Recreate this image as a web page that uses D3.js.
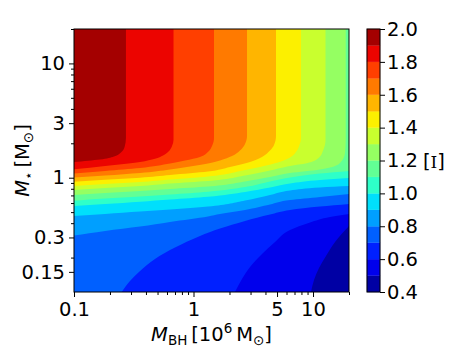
<!DOCTYPE html>
<html>
<head>
<meta charset="utf-8">
<script src="https://cdn.jsdelivr.net/npm/d3@7"></script>
<style>
  body { margin: 0; background: #fff; }
  text { font-family: "DejaVu Sans", sans-serif; }
</style>
</head>
<body>
<svg id="svg" width="463" height="348"></svg>
<script>
// contour levels and axis ticks
const levels = [0.4, 0.5, 0.6, 0.7, 0.8, 0.9, 1.0, 1.1, 1.2, 1.3, 1.4, 1.5, 1.6, 1.7, 1.8, 1.9, 2.0];
const cbarTicks = [0.4, 0.6, 0.8, 1.0, 1.2, 1.4, 1.6, 1.8, 2.0];
const xMajorTicks = [0.1, 1, 5, 10];
const xMinorTicks = [0.2, 0.3, 0.4, 0.5, 0.6, 0.7, 0.8, 0.9, 2, 3, 4, 6, 7, 8, 9, 20];
const yMajorTicks = [0.15, 0.3, 1, 3, 10];
const yMinorTicks = [0.2, 0.4, 0.5, 0.6, 0.7, 0.8, 0.9, 2, 4, 5, 6, 7, 8, 9, 20];

// contour boundaries: [M_BH (1e6 Msun), M_star (Msun)], top to bottom
const line05 = [[20, 0.378], [15.28, 0.274], [12.84, 0.2065], [11.22, 0.1622], [10.19, 0.1273], [9.618, 0.1]];
const line06 = [[20, 0.4815], [13.87, 0.453], [9.435, 0.406], [6.418, 0.349], [4.808, 0.274], [3.742, 0.215],
                [2.97, 0.1655], [2.545, 0.13], [2.224, 0.1]];
const line07 = [[20, 0.589], [11.44, 0.56], [6.418, 0.522], [4.365, 0.4765], [2.697, 0.418], [1.666, 0.359],
                [1.133, 0.309], [0.70, 0.245], [0.476, 0.1944], [0.357, 0.1527], [0.294, 0.1248], [0.2507, 0.1]];
const line08 = [[20, 0.72], [11.44, 0.678], [6.418, 0.638], [4.365, 0.583], [2.697, 0.522], [1.666, 0.4815],
                [1.322, 0.458], [0.636, 0.41], [0.357, 0.374], [0.182, 0.342], [0.1, 0.312]];
const line09 = [[20, 0.846], [11.44, 0.821], [6.418, 0.773], [4.365, 0.706], [2.697, 0.632], [1.322, 0.56],
                [0.636, 0.527], [0.357, 0.506], [0.182, 0.4815], [0.1, 0.462]];
const line10 = [[20, 0.994], [11.44, 0.955], [6.418, 0.89], [4.365, 0.821], [2.697, 0.75], [1.322, 0.682],
                [0.636, 0.645], [0.357, 0.617], [0.182, 0.589], [0.1, 0.566]];
const line11 = [[20, 1.145], [11.44, 1.088], [6.418, 1.004], [4.365, 0.927], [2.697, 0.829], [1.322, 0.754],
                [0.636, 0.713], [0.357, 0.685], [0.182, 0.658], [0.1, 0.629]];
const line12 = [[18.77, 20], [18.77, 2.14], [18.52, 1.645], [16.82, 1.345], [13.87, 1.228], [11.44, 1.18],
                [6.418, 1.099], [4.365, 1.014], [2.697, 0.927], [1.322, 0.838], [0.636, 0.797], [0.357, 0.765],
                [0.182, 0.735], [0.1, 0.706]];
const line13 = [[12.72, 20], [12.72, 2.14], [12.19, 1.747], [11.07, 1.478], [8.853, 1.337], [6.418, 1.266],
                [4.365, 1.156], [2.697, 1.045], [1.322, 0.936], [0.636, 0.89], [0.357, 0.846], [0.182, 0.813],
                [0.1, 0.781]];
const line14 = [[7.935, 20], [7.935, 2.225], [7.706, 1.933], [7.343, 1.73], [6.418, 1.502], [5.093, 1.358],
                [3.6, 1.241], [2.697, 1.168], [1.322, 1.025], [0.636, 0.9645], [0.357, 0.917], [0.182, 0.881],
                [0.1, 0.846]];
const line15 = [[4.9, 20], [4.9, 2.317], [4.716, 1.933], [4.365, 1.73], [3.742, 1.518], [2.97, 1.372],
                [2.02, 1.241], [1.322, 1.133], [0.636, 1.056], [0.357, 1.0], [0.182, 0.961], [0.1, 0.923]];
const line16 = [[2.803, 20], [2.803, 2.317], [2.697, 1.972], [2.449, 1.73], [2.1, 1.548], [1.666, 1.414],
                [1.322, 1.331], [0.935, 1.253], [0.636, 1.18], [0.357, 1.099], [0.182, 1.045], [0.1, 1.004]];
const line17 = [[1.484, 20], [1.484, 2.225], [1.428, 1.894], [1.322, 1.678], [1.133, 1.518], [0.849, 1.414],
                [0.636, 1.331], [0.357, 1.216], [0.182, 1.145], [0.1, 1.088]];
const line18 = [[0.68, 20], [0.68, 2.14], [0.661, 1.894], [0.618, 1.695], [0.556, 1.564], [0.476, 1.464],
                [0.357, 1.372], [0.182, 1.266], [0.1, 1.185]];
const line19 = [[0.272, 20], [0.272, 2.225], [0.265, 1.856], [0.247, 1.662], [0.216, 1.533], [0.165, 1.443],
                [0.1, 1.372]];
const contourLines = [line05, line06, line07, line08, line09, line10, line11, line12, line13, line14,
                      line15, line16, line17, line18, line19];

const svg = d3.select("#svg");
const fontSize = 19.5;

const x = d3.scaleLog().domain([0.1, 20]).range([74, 349]);
const y = d3.scaleLog().domain([0.1, 20]).range([292, 29]);
const [x0, x1] = x.range();
const [y0, y1] = y.range();

// jet colormap
const jetR = d3.scaleLinear().domain([0, 0.35, 0.66, 0.89, 1]).range([0, 0, 1, 1, 0.5]);
const jetG = d3.scaleLinear().domain([0, 0.125, 0.375, 0.64, 0.91, 1]).range([0, 0, 1, 1, 0, 0]);
const jetB = d3.scaleLinear().domain([0, 0.11, 0.34, 0.65, 1]).range([0.5, 1, 1, 0, 0]);
const jet = t => d3.rgb(jetR(t) * 255, jetG(t) * 255, jetB(t) * 255).formatHex();
const nBands = levels.length - 1;
const bandColors = d3.range(nBands).map(i => jet((i + 0.5) / nBands));

// filled contours
svg.append("clipPath").attr("id", "plotClip")
    .append("rect")
    .attr("x", x0).attr("y", y1)
    .attr("width", x1 - x0).attr("height", y0 - y1);

const field = svg.append("g").attr("clip-path", "url(#plotClip)");

field.append("rect")
    .attr("x", x0).attr("y", y1)
    .attr("width", x1 - x0).attr("height", y0 - y1)
    .attr("fill", bandColors[0]);

const lineGen = d3.line()
    .x(d => x(d[0]))
    .y(d => y(d[1]))
    .curve(d3.curveMonotoneY);

contourLines.forEach((pts, i) => {
    const first = pts[0];
    const last = pts[pts.length - 1];
    let d = lineGen(pts);
    if (last[1] <= 0.1) d += `L${x0},${y0}`;
    d += `L${x0},${y1}`;
    if (first[0] >= 20) d += `L${x1},${y1}`;
    d += "Z";
    field.append("path")
        .attr("d", d)
        .attr("fill", bandColors[i + 1]);
});

// axes
function styleAxis(g) {
    g.select(".domain").remove();
    g.selectAll("line").attr("stroke", "#000").attr("stroke-width", 1);
    g.selectAll("text")
        .attr("fill", "#000")
        .style("font-family", "'DejaVu Sans', sans-serif")
        .style("font-size", fontSize + "px");
}

svg.append("g")
    .attr("transform", `translate(0,${y0})`)
    .call(d3.axisBottom(x).tickValues(xMinorTicks).tickSize(3).tickFormat(""))
    .call(styleAxis);
svg.append("g")
    .attr("transform", `translate(0,${y0})`)
    .call(d3.axisBottom(x).tickValues(xMajorTicks).tickSize(5).tickPadding(5).tickFormat(d => String(d)))
    .call(styleAxis);

svg.append("g")
    .attr("transform", `translate(${x0},0)`)
    .call(d3.axisLeft(y).tickValues(yMinorTicks).tickSize(3).tickFormat(""))
    .call(styleAxis);
svg.append("g")
    .attr("transform", `translate(${x0},0)`)
    .call(d3.axisLeft(y).tickValues(yMajorTicks).tickSize(5).tickPadding(4).tickFormat(d => String(d)))
    .call(styleAxis);

svg.append("rect")
    .attr("x", x0).attr("y", y1)
    .attr("width", x1 - x0).attr("height", y0 - y1)
    .attr("fill", "none").attr("stroke", "#000").attr("stroke-width", 1);

// axis labels
const xLabel = svg.append("text")
    .attr("x", (x0 + x1) / 2).attr("y", 341)
    .attr("text-anchor", "middle")
    .style("font-size", fontSize + "px");
xLabel.append("tspan").attr("font-style", "italic").text("M");
xLabel.append("tspan").attr("font-size", 13.5).attr("dy", 4).text("BH");
xLabel.append("tspan").attr("dy", -4).text("\u2009[10");
xLabel.append("tspan").attr("font-size", 13.5).attr("dy", -8).text("6");
xLabel.append("tspan").attr("dy", 8).text("\u2009M");
xLabel.append("tspan").attr("font-size", 13.5).attr("dy", 4).text("\u2299");
xLabel.append("tspan").attr("dy", -4).text("]");

const yLabel = svg.append("text")
    .attr("transform", `translate(29,${(y0 + y1) / 2}) rotate(-90)`)
    .attr("text-anchor", "middle")
    .style("font-size", fontSize + "px");
yLabel.append("tspan").attr("font-style", "italic").text("M");
yLabel.append("tspan").attr("font-size", 13.5).attr("dy", 4).text("\u22c6");
yLabel.append("tspan").attr("dy", -4).text("\u2009[M");
yLabel.append("tspan").attr("font-size", 13.5).attr("dy", 4).text("\u2299");
yLabel.append("tspan").attr("dy", -4).text("]");

// colorbar
const cbX = 367, cbW = 13;
const c = d3.scaleLinear().domain([levels[0], levels[nBands]]).range([y0, y1]);

svg.append("g").selectAll("rect")
    .data(d3.range(nBands))
    .join("rect")
    .attr("x", cbX)
    .attr("y", i => c(levels[i + 1]))
    .attr("width", cbW)
    .attr("height", i => c(levels[i]) - c(levels[i + 1]))
    .attr("fill", i => bandColors[i])
    .attr("stroke", i => bandColors[i])
    .attr("stroke-width", 0.3);

svg.append("rect")
    .attr("x", cbX).attr("y", y1)
    .attr("width", cbW).attr("height", y0 - y1)
    .attr("fill", "none").attr("stroke", "#000").attr("stroke-width", 1);

svg.append("g")
    .attr("transform", `translate(${cbX + cbW},0)`)
    .call(d3.axisRight(c).tickValues(cbarTicks).tickSize(5).tickPadding(2).tickFormat(d3.format(".1f")))
    .call(styleAxis);

const cLabel = svg.append("text")
    .attr("x", 423).attr("y", (y0 + y1) / 2 + 7)
    .style("font-size", fontSize + "px");
cLabel.append("tspan").text("[");
cLabel.append("tspan").style("font-family", "'DejaVu Serif', serif").style("font-size", "17px").text("I");
cLabel.append("tspan").text("]");
</script>
</body>
</html>
